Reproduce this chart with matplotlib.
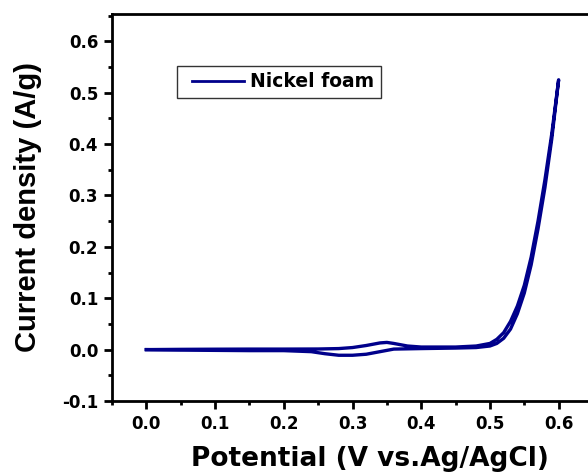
import matplotlib
matplotlib.use("Agg")
import matplotlib.pyplot as plt
from matplotlib.lines import Line2D
from matplotlib.legend_handler import HandlerLine2D
from matplotlib.ticker import MultipleLocator

plt.rcParams["font.family"] = ["Liberation Sans", "DejaVu Sans"]
plt.rcParams["font.weight"] = "bold"
plt.rcParams["axes.unicode_minus"] = False

# anodic (forward) scan
fwd_potential = [0.0, 0.05, 0.1, 0.15, 0.2, 0.25, 0.28, 0.3, 0.32, 0.34, 0.35,
                 0.36, 0.38, 0.4, 0.45, 0.48, 0.5, 0.51, 0.52, 0.53, 0.54,
                 0.55, 0.56, 0.57, 0.58, 0.59, 0.6]
fwd_current = [0.0, 0.0005, 0.0008, 0.001, 0.001, 0.0012, 0.002, 0.004, 0.008,
               0.013, 0.014, 0.012, 0.007, 0.005, 0.005, 0.007, 0.012, 0.02,
               0.033, 0.055, 0.085, 0.125, 0.18, 0.25, 0.33, 0.42, 0.525]

# cathodic (reverse) scan
rev_potential = [0.6, 0.59, 0.58, 0.57, 0.56, 0.55, 0.54, 0.53, 0.52, 0.51,
                 0.5, 0.48, 0.45, 0.4, 0.36, 0.34, 0.32, 0.3, 0.28, 0.26,
                 0.24, 0.2, 0.15, 0.1, 0.05, 0.0]
rev_current = [0.525, 0.41, 0.315, 0.235, 0.165, 0.11, 0.07, 0.04, 0.022,
               0.012, 0.007, 0.004, 0.003, 0.002, 0.001, -0.004, -0.009,
               -0.011, -0.011, -0.008, -0.004, -0.002, -0.002, -0.0015,
               -0.001, 0.0]

LINE_COLOR = "#00008B"

fig = plt.figure(figsize=(5.88, 4.74), dpi=100)
ax = fig.add_axes([0.1905, 0.154, 0.818, 0.8165])

ax.plot(fwd_potential + rev_potential, fwd_current + rev_current,
        color=LINE_COLOR, linewidth=2.4, label="Nickel foam")

ax.set_xlim(-0.05, 0.65)
ax.set_ylim(-0.1, 0.653)

ax.xaxis.set_minor_locator(MultipleLocator(0.05))
ax.yaxis.set_minor_locator(MultipleLocator(0.05))
ax.set_xticks([0.0, 0.1, 0.2, 0.3, 0.4, 0.5, 0.6])
ax.set_yticks([-0.1, 0.0, 0.1, 0.2, 0.3, 0.4, 0.5, 0.6])

ax.tick_params(which="major", direction="out", length=6, width=2,
               labelsize=12, pad=4)
ax.tick_params(which="minor", direction="out", length=3, width=2)
ax.tick_params(top=False, right=False)
for lab in ax.get_xticklabels() + ax.get_yticklabels():
    lab.set_fontfamily("DejaVu Sans")
    lab.set_fontweight("bold")

for spine in ax.spines.values():
    spine.set_linewidth(2)

ax.set_xlabel("Potential (V vs.Ag/AgCl)", fontsize=19, fontweight="bold",
              family="DejaVu Sans")
ax.xaxis.set_label_coords(0.536, -0.115)
ax.set_ylabel("Current density (A/g)", fontsize=21, fontweight="bold",
              labelpad=14)

leg = ax.legend(loc="upper left", bbox_to_anchor=(0.135, 0.866),
                borderaxespad=0, fancybox=False, handlelength=3.22,
                handletextpad=0.32, borderpad=0.35,
                handler_map={Line2D: HandlerLine2D(xpad=0.45)},
                prop={"size": 13.5, "weight": "bold", "family": "DejaVu Sans"})
leg.get_frame().set_edgecolor("black")
leg.get_frame().set_linewidth(1)
leg.get_lines()[0].set_linewidth(2)

fig.savefig("out.png", dpi=100)
